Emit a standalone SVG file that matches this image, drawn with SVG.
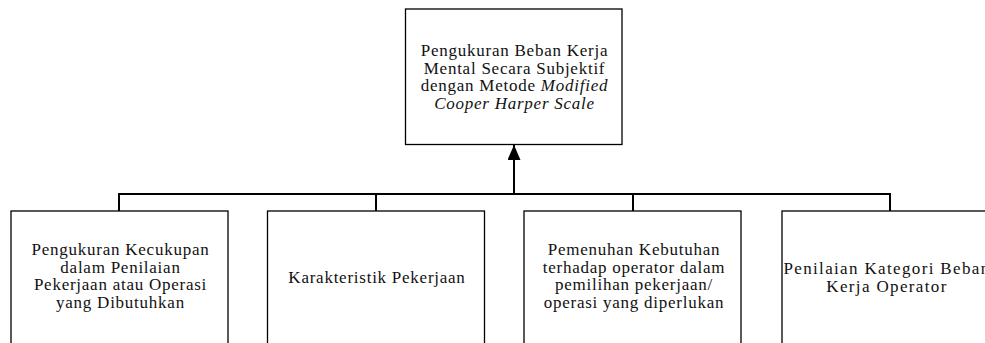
<svg xmlns="http://www.w3.org/2000/svg" width="985" height="343" viewBox="0 0 985 343">
<style>
.box{fill:#fff;stroke:#000;stroke-width:1.3}
.t{font-family:"Liberation Serif","Times New Roman",serif;font-size:17px;fill:#111;text-anchor:middle;letter-spacing:0.75px}
.w{letter-spacing:1.35px}
.conn{fill:none;stroke:#000;stroke-width:2}
</style>
<defs>
<marker id="ah" markerWidth="15" markerHeight="13" refX="15" refY="6.5" orient="auto" markerUnits="userSpaceOnUse">
<path d="M0,0 L15,6.5 L0,13 Z" fill="#000"/>
</marker>
</defs>
<g id="connectors">
<path class="conn" d="M119,211 V194 H890 V211"/>
<path class="conn" d="M376,194 V211"/>
<path class="conn" d="M633,194 V211"/>
<path class="conn" d="M514,194 V145" marker-end="url(#ah)"/>
</g>
<g id="top">
<rect class="box" x="405.5" y="9" width="216.5" height="135.5"/>
<text class="t" x="514.5" y="56">Pengukuran Beban Kerja</text>
<text class="t" x="514.5" y="73.5">Mental Secara Subjektif</text>
<text class="t" x="514.5" y="91">dengan Metode <tspan font-style="italic">Modified</tspan></text>
<text class="t" x="514.5" y="108.5" font-style="italic">Cooper Harper Scale</text>
</g>
<g id="n1">
<rect class="box" x="11" y="211" width="217" height="150"/>
<text class="t" x="120.5" y="255">Pengukuran Kecukupan</text>
<text class="t" x="120.5" y="272.5">dalam Penilaian</text>
<text class="t" x="120.5" y="290">Pekerjaan atau Operasi</text>
<text class="t" x="120.5" y="307.5">yang Dibutuhkan</text>
</g>
<g id="n2">
<rect class="box" x="267.5" y="211" width="217" height="150"/>
<text class="t" x="377" y="283">Karakteristik Pekerjaan</text>
</g>
<g id="n3">
<rect class="box" x="524" y="211" width="217" height="150"/>
<text class="t" x="634" y="255">Pemenuhan Kebutuhan</text>
<text class="t" x="634" y="272.5">terhadap operator dalam</text>
<text class="t" x="634" y="290">pemilihan pekerjaan/</text>
<text class="t" x="634" y="307.5">operasi yang diperlukan</text>
</g>
<g id="n4">
<rect class="box" x="782" y="211" width="217" height="150"/>
<text class="t w" x="887" y="274">Penilaian Kategori Beban</text>
<text class="t w" x="887" y="291.5">Kerja Operator</text>
</g>
</svg>
